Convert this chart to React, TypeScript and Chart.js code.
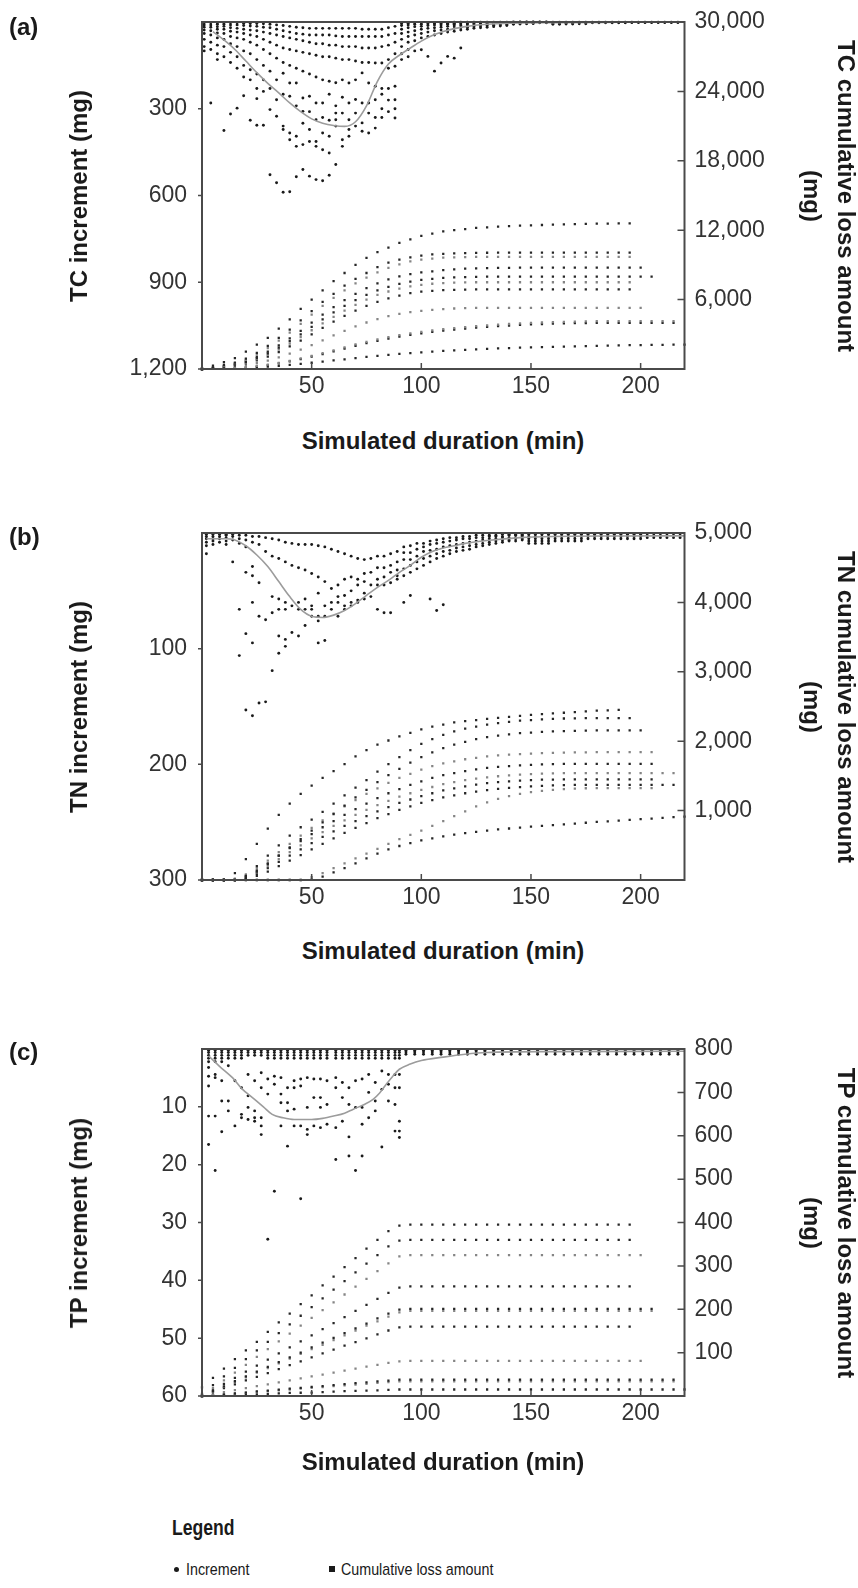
import React, { useEffect, useRef } from "react";
import { Chart, registerables } from "chart.js";

Chart.register(...registerables);

// ---------------- shared ----------------
const X_TICKS = [50, 100, 150, 200];
const CUM_T = [0, 5, 10, 15, 20, 25, 30, 35, 40, 45, 50, 55, 60, 65, 70, 75, 80, 85, 90, 95, 100, 105, 110, 115, 120, 125, 130, 135, 140, 145, 150, 155, 160, 165, 170, 175, 180, 185, 190, 195, 200, 205, 210, 215, 220];

// ---------------- (a) TC ----------------
const TC_LEFT_TICKS = [300, 600, 900, 1200];
const TC_RIGHT_TICKS = [6000, 12000, 18000, 24000, 30000];
const TC_INC_T = [1, 4, 7, 10, 13, 16, 19, 22, 25, 28, 31, 34, 37, 40, 43, 46, 49, 52, 55, 58, 61, 64, 67, 70, 73, 76, 79, 82, 85, 88, 91, 94, 97, 100, 103, 106, 109, 112, 115, 118, 121, 124, 127, 130, 133, 136, 139, 142, 145, 148, 151, 154, 157, 160, 163, 166, 169, 172, 175, 178, 181, 184, 187, 190, 193, 196, 199, 202, 205, 208, 211, 214, 217];
const TC_INC_V = [
  [3, 10, 18, 28, 40, 60, 85, 100],
  [3, 10, 18, 30, 45, 70, 95, 280],
  [3, 8, 16, 25, 38, 55, 80, 110, 130],
  [3, 8, 15, 25, 40, 60, 85, 120, 375],
  [3, 10, 20, 32, 50, 75, 105, 140, 318],
  [3, 10, 22, 35, 55, 85, 120, 160, 298],
  [4, 12, 25, 40, 60, 100, 150, 190, 255],
  [5, 14, 28, 45, 70, 110, 165, 200, 340],
  [5, 15, 30, 50, 80, 130, 180, 230, 265, 357],
  [6, 18, 35, 60, 95, 150, 200, 240, 357],
  [8, 20, 40, 70, 110, 170, 230, 303, 528],
  [10, 25, 45, 80, 125, 200, 269, 326, 556],
  [12, 30, 50, 90, 140, 177, 250, 360, 372, 589],
  [15, 35, 55, 95, 150, 211, 257, 384, 407, 587],
  [18, 40, 60, 100, 160, 211, 290, 395, 430, 535],
  [20, 42, 65, 105, 170, 263, 309, 350, 424, 510],
  [22, 45, 70, 110, 180, 257, 310, 372, 413, 533],
  [22, 45, 75, 115, 190, 280, 338, 413, 430, 545],
  [22, 45, 75, 120, 200, 280, 330, 384, 442, 549],
  [22, 45, 80, 120, 205, 250, 340, 395, 453, 530],
  [22, 48, 80, 125, 210, 290, 315, 338, 360, 493],
  [22, 50, 85, 130, 200, 260, 315, 407, 430],
  [22, 50, 85, 130, 211, 280, 338, 372, 395],
  [22, 50, 85, 135, 200, 268, 315, 360],
  [25, 50, 90, 140, 176, 280, 349, 378],
  [25, 50, 90, 140, 211, 280, 315, 384],
  [25, 50, 90, 142, 222, 269, 330, 367],
  [25, 50, 85, 142, 230, 250, 300, 330],
  [20, 45, 80, 130, 160, 230, 270, 310],
  [15, 40, 70, 110, 153, 222, 269, 300, 332],
  [5, 12, 25, 40, 60, 85, 110, 130],
  [4, 10, 20, 35, 50, 70, 95, 120],
  [3, 8, 16, 30, 45, 65, 100],
  [3, 8, 15, 25, 40, 55, 96],
  [2, 6, 12, 22, 35, 50, 119],
  [2, 5, 10, 20, 30, 45, 170],
  [2, 5, 10, 18, 28, 40, 142],
  [2, 4, 8, 15, 25, 35, 119],
  [1, 4, 8, 14, 22, 32, 125],
  [1, 3, 7, 12, 20, 28, 90],
  [1, 3, 6, 10, 18, 25],
  [1, 3, 6, 10, 16, 22],
  [1, 2, 5, 9, 14, 20],
  [1, 2, 5, 8, 12, 18],
  [1, 2, 4, 7, 11, 16],
  [1, 2, 4, 6, 10, 14],
  [1, 2, 3, 6, 9, 12],
  [0, 2, 3, 5, 8],
  [0, 1, 3, 5, 7],
  [0, 1, 2, 4, 6],
  [0, 1, 2, 4, 5],
  [0, 1, 2, 3],
  [0, 1, 2, 3],
  [1, 4, 8],
  [1, 4, 8],
  [1, 4, 7],
  [1, 4, 7],
  [1, 3, 6],
  [1, 3, 6],
  [1, 3],
  [1, 3],
  [1, 3],
  [1, 3],
  [1, 3],
  [1, 3],
  [1, 2],
  [1, 2],
  [1, 2],
  [1, 2],
  [1, 2],
  [1, 2],
  [1, 2],
  [1, 2]
];
const TC_FIT_T = [5, 10, 15, 20, 25, 30, 35, 40, 45, 50, 55, 60, 65, 70, 75, 80, 85, 90, 95, 100, 105, 110, 115, 120, 130, 140, 160, 190, 220];
const TC_FIT_V = [33, 62, 95, 135, 175, 212, 245, 280, 310, 335, 350, 358, 361, 345, 290, 205, 145, 115, 90, 66, 47, 33, 23, 16, 8, 4, 2, 1, 0.5];
const TC_CUM_1 = [0, 300, 600, 950, 1500, 2100, 2700, 3500, 4300, 5200, 6000, 6800, 7600, 8300, 9000, 9600, 10100, 10500, 10900, 11200, 11500, 11700, 11900, 12000, 12100, 12200, 12250, 12300, 12350, 12400, 12420, 12450, 12480, 12500, 12520, 12540, 12560, 12570, 12580, 12600];
const TC_CUM_2 = [0, 150, 350, 550, 900, 1400, 2000, 2700, 3400, 4200, 5000, 5800, 6500, 7200, 7800, 8300, 8800, 9200, 9450, 9650, 9800, 9900, 9950, 10000, 10020, 10040, 10050, 10060, 10060, 10060, 10060, 10060, 10060, 10060, 10060, 10060, 10060, 10060, 10060, 10060];
const TC_CUM_3 = [0, 120, 300, 500, 800, 1250, 1800, 2450, 3150, 3900, 4700, 5450, 6150, 6800, 7400, 7900, 8350, 8750, 9050, 9300, 9450, 9550, 9620, 9660, 9680, 9700, 9700, 9700, 9700, 9700, 9700, 9700, 9700, 9700, 9700, 9700, 9700, 9700, 9700, 9700];
const TC_CUM_4 = [0, 100, 250, 450, 700, 1050, 1500, 2050, 2650, 3300, 4000, 4700, 5350, 5950, 6500, 7000, 7400, 7750, 8000, 8200, 8350, 8450, 8550, 8620, 8670, 8700, 8720, 8740, 8750, 8760, 8760, 8760, 8760, 8760, 8760, 8760, 8760, 8760, 8760, 8760, 8760];
const TC_CUM_5 = [0, 80, 200, 380, 620, 950, 1350, 1850, 2400, 3000, 3650, 4300, 4900, 5450, 5950, 6400, 6800, 7100, 7350, 7550, 7700, 7800, 7870, 7920, 7950, 7970, 7980, 7980, 7980, 7980, 7980, 7980, 7980, 7980, 7980, 7980, 7980, 7980, 7980, 7980, 7980, 7980];
const TC_CUM_6 = [0, 70, 180, 340, 560, 860, 1250, 1700, 2200, 2750, 3350, 3950, 4500, 5050, 5550, 6000, 6400, 6700, 6950, 7150, 7280, 7370, 7430, 7470, 7490, 7500, 7500, 7500, 7500, 7500, 7500, 7500, 7500, 7500, 7500, 7500, 7500, 7500, 7500, 7500];
const TC_CUM_7 = [0, 60, 150, 290, 480, 740, 1070, 1470, 1950, 2450, 3000, 3550, 4100, 4600, 5050, 5450, 5800, 6100, 6350, 6550, 6680, 6760, 6820, 6850, 6870, 6880, 6880, 6880, 6880, 6880, 6880, 6880, 6880, 6880, 6880, 6880, 6880, 6880, 6880, 6880];
const TC_CUM_8 = [0, 40, 100, 190, 320, 500, 730, 1000, 1320, 1680, 2070, 2480, 2900, 3300, 3680, 4020, 4320, 4570, 4770, 4920, 5030, 5120, 5180, 5230, 5260, 5280, 5290, 5290, 5290, 5290, 5290, 5290, 5290, 5290, 5290, 5290, 5290, 5290, 5290, 5290, 5290];
const TC_CUM_9 = [0, 20, 50, 100, 170, 260, 380, 530, 710, 910, 1130, 1370, 1620, 1870, 2120, 2350, 2570, 2760, 2930, 3080, 3210, 3330, 3440, 3540, 3630, 3710, 3780, 3840, 3890, 3940, 3980, 4020, 4050, 4080, 4100, 4120, 4130, 4130, 4130, 4130, 4130, 4130, 4130, 4130];
const TC_CUM_10 = [0, 15, 40, 85, 150, 235, 345, 490, 660, 850, 1060, 1290, 1530, 1770, 2010, 2230, 2440, 2630, 2800, 2950, 3080, 3200, 3310, 3410, 3500, 3580, 3650, 3710, 3760, 3810, 3850, 3890, 3920, 3940, 3960, 3970, 3980, 3980, 3980, 3980, 3980, 3980, 3980, 3980];
const TC_CUM_11 = [0, 10, 25, 50, 90, 140, 200, 270, 350, 440, 540, 640, 740, 840, 940, 1040, 1130, 1220, 1300, 1370, 1440, 1500, 1560, 1610, 1660, 1700, 1740, 1780, 1810, 1840, 1870, 1900, 1920, 1940, 1960, 1980, 2000, 2020, 2040, 2060, 2070, 2080, 2090, 2100, 2110];

// ---------------- (b) TN ----------------
const TN_LEFT_TICKS = [100, 200, 300];
const TN_RIGHT_TICKS = [1000, 2000, 3000, 4000, 5000];
const TN_INC_T = [2, 5, 8, 11, 14, 17, 20, 23, 26, 29, 32, 35, 38, 41, 44, 47, 50, 53, 56, 59, 62, 65, 68, 71, 74, 77, 80, 83, 86, 89, 92, 95, 98, 101, 104, 107, 110, 113, 116, 119, 122, 125, 128, 131, 134, 137, 140, 143, 146, 149, 152, 155, 158, 161, 164, 167, 170, 173, 176, 179, 182, 185, 188, 191, 194, 197, 200, 203, 206, 209, 212, 215, 218];
const TN_INC_V = [
  [1, 3, 5, 8, 11, 18],
  [1, 3, 5, 7, 10],
  [1, 3, 5, 8],
  [1, 2, 4, 7, 10],
  [1, 3, 6, 25],
  [2, 5, 9, 66, 106],
  [2, 6, 12, 34, 87, 153],
  [3, 8, 29, 37, 60, 95, 158],
  [3, 10, 43, 72, 147],
  [4, 16, 75, 146],
  [5, 20, 55, 69, 119],
  [6, 22, 57, 66, 89, 104],
  [8, 25, 60, 66, 92, 98],
  [9, 28, 63, 86],
  [10, 30, 60, 66, 89],
  [10, 32, 57, 66, 80],
  [10, 35, 63, 66, 72],
  [11, 38, 52, 72, 76, 95],
  [12, 42, 63, 72, 93],
  [14, 48, 60, 66],
  [16, 45, 55, 60, 72],
  [18, 40, 54, 63, 66],
  [20, 38, 50, 60, 63],
  [22, 40, 45, 58, 60],
  [23, 35, 42, 52, 57],
  [22, 34, 45, 55],
  [20, 30, 40, 45, 66],
  [20, 30, 38, 45, 69],
  [18, 28, 34, 43, 69],
  [16, 25, 32, 37, 40],
  [12, 17, 23, 31, 37, 60],
  [11, 17, 23, 28, 34, 54],
  [9, 14, 20, 25, 31],
  [9, 12, 16, 22, 28],
  [7, 10, 15, 20, 25, 57],
  [6, 9, 14, 18, 22, 67],
  [5, 8, 12, 16, 20, 62],
  [4, 7, 11, 15, 18],
  [4, 6, 10, 13, 16],
  [3, 5, 9, 12, 15],
  [3, 5, 8, 11, 14],
  [2, 4, 7, 10, 12],
  [2, 4, 6, 9, 11],
  [2, 3, 5, 8, 10],
  [2, 3, 5, 7, 9],
  [1, 3, 4, 6, 8],
  [1, 2, 4, 6, 7],
  [1, 2, 4, 5, 7],
  [1, 2, 3, 5, 6],
  [1, 3, 5, 7, 9],
  [1, 3, 5, 7, 9],
  [1, 3, 5, 7, 9],
  [1, 3, 5, 7, 9],
  [1, 3, 5, 7],
  [1, 3, 5, 7],
  [1, 3, 5, 7],
  [1, 3, 5, 7],
  [1, 3, 5, 7],
  [1, 3, 5],
  [1, 3, 5],
  [1, 3, 5],
  [1, 3, 5],
  [1, 3, 5],
  [1, 3, 5],
  [1, 3, 5],
  [1, 3, 5],
  [1, 3, 5],
  [2, 4],
  [2, 4],
  [2, 4],
  [2, 4],
  [2, 4],
  [2, 4]
];
const TN_FIT_T = [2, 10, 15, 20, 25, 30, 35, 40, 45, 50, 55, 60, 65, 70, 75, 80, 85, 90, 95, 100, 105, 110, 115, 120, 130, 145, 160, 190, 220];
const TN_FIT_V = [5, 5, 6, 11, 19, 29, 42, 55, 66, 72, 73, 71, 67, 61, 54, 47, 41, 34, 28, 21, 16, 13, 11, 9, 6.5, 4, 3, 2.6, 2.5];
const TN_CUM_1 = [0, 0, 0, 100, 300, 520, 740, 940, 1100, 1240, 1360, 1470, 1570, 1670, 1780, 1870, 1950, 2010, 2070, 2120, 2170, 2210, 2240, 2270, 2290, 2305, 2320, 2335, 2350, 2365, 2380, 2390, 2400, 2410, 2420, 2430, 2440, 2445, 2453];
const TN_CUM_2 = [0, 0, 0, 0, 60, 200, 350, 500, 640, 760, 870, 980, 1100, 1220, 1330, 1440, 1560, 1670, 1770, 1870, 1960, 2030, 2090, 2140, 2180, 2210, 2240, 2260, 2280, 2295, 2305, 2315, 2322, 2327, 2330, 2333, 2333, 2333, 2333, 2333];
const TN_CUM_3 = [0, 0, 0, 0, 30, 120, 230, 350, 470, 590, 710, 830, 950, 1070, 1190, 1300, 1410, 1510, 1600, 1690, 1770, 1840, 1900, 1950, 1990, 2030, 2060, 2080, 2100, 2115, 2125, 2135, 2140, 2145, 2150, 2153, 2155, 2155, 2155, 2155, 2155];
const TN_CUM_4 = [0, 0, 0, 20, 80, 170, 280, 400, 520, 640, 750, 860, 960, 1060, 1150, 1240, 1320, 1400, 1470, 1530, 1590, 1640, 1680, 1710, 1740, 1760, 1780, 1795, 1805, 1815, 1822, 1828, 1832, 1836, 1838, 1840, 1842, 1842, 1842, 1842, 1842, 1842];
const TN_CUM_5 = [0, 0, 0, 10, 60, 140, 240, 350, 460, 560, 660, 760, 850, 940, 1020, 1100, 1180, 1250, 1310, 1370, 1420, 1470, 1510, 1540, 1570, 1595, 1615, 1630, 1642, 1652, 1660, 1665, 1669, 1672, 1674, 1674, 1674, 1674, 1674, 1674, 1674, 1674];
const TN_CUM_6 = [0, 0, 0, 0, 40, 110, 200, 300, 400, 500, 600, 690, 780, 860, 940, 1010, 1080, 1140, 1200, 1250, 1300, 1340, 1380, 1410, 1440, 1460, 1480, 1495, 1508, 1518, 1526, 1532, 1536, 1539, 1540, 1540, 1540, 1540, 1540, 1540, 1540, 1540, 1540, 1540];
const TN_CUM_7 = [0, 0, 0, 0, 30, 90, 170, 260, 350, 440, 530, 620, 700, 780, 850, 920, 990, 1050, 1110, 1160, 1210, 1250, 1290, 1320, 1350, 1375, 1395, 1410, 1422, 1432, 1440, 1445, 1448, 1450, 1450, 1450, 1450, 1450, 1450, 1450, 1450, 1450];
const TN_CUM_8 = [0, 0, 0, 0, 20, 60, 120, 200, 280, 360, 440, 520, 600, 680, 750, 820, 890, 950, 1010, 1060, 1110, 1150, 1190, 1220, 1250, 1275, 1295, 1312, 1326, 1338, 1348, 1356, 1362, 1366, 1369, 1371, 1371, 1371, 1371, 1371, 1371, 1371, 1371, 1371];
const TN_CUM_9 = [0, 0, 0, 0, 0, 0, 0, 0, 0, 0, 40, 100, 170, 240, 310, 380, 450, 520, 590, 650, 710, 780, 850, 920, 990, 1060, 1120, 1170, 1210, 1240, 1265, 1285, 1300, 1310, 1318, 1322, 1325, 1325, 1325, 1325, 1325, 1325];
const TN_CUM_10 = [0, 0, 0, 0, 0, 0, 0, 0, 0, 0, 10, 50, 110, 170, 240, 310, 380, 440, 490, 530, 570, 600, 630, 655, 675, 695, 712, 728, 742, 755, 768, 780, 792, 803, 814, 825, 836, 846, 856, 866, 876, 886, 896, 905, 913];

// ---------------- (c) TP ----------------
const TP_LEFT_TICKS = [10, 20, 30, 40, 50, 60];
const TP_RIGHT_TICKS = [100, 200, 300, 400, 500, 600, 700, 800];
const TP_INC_T = [3, 6, 9, 12, 15, 18, 21, 24, 27, 30, 33, 36, 39, 42, 45, 48, 51, 54, 57, 61, 64, 67, 70, 73, 76, 79, 82, 85, 88, 90, 93, 97, 101, 105, 109, 113, 117, 121, 125, 129, 133, 137, 141, 145, 149, 153, 157, 161, 165, 169, 173, 177, 181, 185, 189, 193, 197, 201, 205, 209, 213, 217];
const TP_INC_V = [
  [0.2, 0.6, 1.1, 1.6, 2.2, 3.2, 4.7, 6.4, 11.6, 16.5],
  [0.2, 0.6, 1.1, 1.6, 2.2, 4.4, 4.95, 11.6, 21],
  [0.2, 0.6, 1.1, 1.6, 2.2, 5.5, 9, 14.3],
  [0.2, 0.6, 1.1, 1.6, 2.9, 9, 10.7],
  [0.2, 0.6, 1.1, 1.6, 5.5, 13.3],
  [0.2, 0.6, 1.1, 1.6, 6.7, 11.3, 11.9],
  [0.2, 0.6, 1.1, 4.4, 8.1, 10.1, 12.2],
  [0.2, 0.6, 1.1, 5.5, 10.7, 11.9, 12.5],
  [0.2, 0.6, 1.1, 4.1, 6.7, 11.9, 13.3, 14.8],
  [0.2, 0.6, 1.1, 1.6, 5.2, 7.8, 32.9],
  [0.2, 0.6, 1.1, 1.6, 4.7, 6.1, 24.6],
  [0.2, 0.6, 1.1, 1.6, 4.95, 7.8, 9.3, 13.3],
  [0.2, 0.6, 1.1, 1.6, 6.7, 9.3, 10.7, 16.8],
  [0.2, 0.6, 1.1, 1.6, 5.5, 6.7, 10.4, 13.3],
  [0.2, 0.6, 1.1, 1.6, 5.2, 6.4, 13.3, 25.9],
  [0.2, 0.6, 1.1, 1.6, 4.95, 10.1, 13.9, 14.8],
  [0.2, 0.6, 1.1, 1.6, 5.2, 8.4, 13.3],
  [0.2, 0.6, 1.1, 1.6, 5.2, 8.4, 10.1, 13.6],
  [0.2, 0.6, 1.1, 1.6, 5.5, 9.6, 13.0],
  [0.2, 0.6, 1.1, 1.6, 4.95, 6.7, 13.6, 19.1],
  [0.2, 0.6, 1.1, 1.6, 5.8, 8.4, 12.5],
  [0.2, 0.6, 1.1, 1.6, 6.7, 9.6, 15.2, 18.5],
  [0.2, 0.6, 1.1, 1.6, 5.5, 10.1, 21],
  [0.2, 0.6, 1.1, 1.6, 5.2, 10.1, 13.0, 18.5],
  [0.2, 0.6, 1.1, 1.6, 4.4, 7.5, 11.9],
  [0.2, 0.6, 1.1, 1.6, 5.8, 9.0, 10.7],
  [0.2, 0.6, 1.1, 1.6, 3.8, 6.98, 16.95],
  [0.2, 0.6, 1.1, 1.6, 4.4, 6.1, 9.0],
  [0.2, 0.6, 1.1, 1.6, 4.4, 6.7, 9.6, 14.2],
  [0.2, 0.6, 1.1, 1.6, 4.4, 6.7, 12.5, 14.2, 15.3],
  [0.2, 0.5, 0.9], [0.2, 0.5, 0.9], [0.2, 0.5, 0.9], [0.2, 0.5, 0.9],
  [0.2, 0.5, 0.9], [0.2, 0.5, 0.9], [0.2, 0.5, 0.9], [0.2, 0.5, 0.9],
  [0.2, 0.5, 0.9], [0.2, 0.5, 0.9], [0.2, 0.5, 0.9], [0.2, 0.5, 0.9],
  [0.2, 0.5, 0.9], [0.2, 0.5, 0.9], [0.2, 0.5, 0.9], [0.2, 0.5, 0.9],
  [0.2, 0.5, 0.9], [0.2, 0.5, 0.9], [0.2, 0.5, 0.9], [0.2, 0.5, 0.9],
  [0.2, 0.5, 0.9], [0.2, 0.5, 0.9], [0.2, 0.5, 0.9], [0.2, 0.5, 0.9],
  [0.2, 0.5, 0.9], [0.2, 0.5, 0.9], [0.2, 0.5, 0.9], [0.2, 0.5, 0.9],
  [0.2, 0.5, 0.9], [0.2, 0.5, 0.9], [0.2, 0.5, 0.9], [0.2, 0.5, 0.9]
];
const TP_FIT_T = [3, 8, 14, 18, 23, 28, 32, 37, 42, 50, 55, 60, 65, 69, 74, 78, 81, 84, 87, 90, 95, 100, 110, 120, 130, 160, 220];
const TP_FIT_V = [1.2, 3, 5, 6.8, 8.4, 10, 11.3, 11.9, 12.2, 12.2, 12, 11.6, 11.1, 10.4, 9.6, 8.7, 7.6, 6.1, 4.7, 3.5, 2.6, 2.0, 1.4, 0.9, 0.6, 0.45, 0.4];
const TP_CUM_1 = [20, 42, 63, 85, 105, 125, 148, 170, 190, 212, 232, 255, 275, 297, 318, 340, 360, 380, 393, 395, 395, 395, 395, 395, 395, 395, 395, 395, 395, 395, 395, 395, 395, 395, 395, 395, 395, 395, 395, 395];
const TP_CUM_2 = [5, 25, 45, 65, 85, 105, 125, 145, 165, 185, 205, 225, 245, 265, 285, 305, 325, 345, 358, 360, 360, 360, 360, 360, 360, 360, 360, 360, 360, 360, 360, 360, 360, 360, 360, 360, 360, 360, 360, 360];
const TP_CUM_3 = [0, 18, 36, 54, 72, 90, 108, 126, 144, 162, 180, 198, 216, 234, 252, 270, 288, 306, 322, 325, 325, 325, 325, 325, 325, 325, 325, 325, 325, 325, 325, 325, 325, 325, 325, 325, 325, 325, 325, 325, 325];
const TP_CUM_4 = [0, 14, 28, 42, 56, 70, 84, 98, 112, 126, 140, 154, 168, 182, 196, 210, 224, 238, 250, 253, 253, 253, 253, 253, 253, 253, 253, 253, 253, 253, 253, 253, 253, 253, 253, 253, 253, 253, 253, 253];
const TP_CUM_5 = [0, 11, 22, 34, 45, 56, 67, 78, 89, 100, 112, 123, 134, 145, 156, 167, 179, 190, 199, 201, 201, 201, 201, 201, 201, 201, 201, 201, 201, 201, 201, 201, 201, 201, 201, 201, 201, 201, 201, 201, 201, 201];
const TP_CUM_6 = [0, 10, 21, 32, 43, 54, 64, 75, 86, 97, 108, 118, 129, 140, 151, 162, 172, 183, 193, 196, 196, 196, 196, 196, 196, 196, 196, 196, 196, 196, 196, 196, 196, 196, 196, 196, 196, 196, 196, 196, 196, 196];
const TP_CUM_7 = [0, 9, 18, 27, 36, 44, 53, 62, 71, 80, 89, 98, 107, 116, 124, 133, 142, 151, 158, 160, 160, 160, 160, 160, 160, 160, 160, 160, 160, 160, 160, 160, 160, 160, 160, 160, 160, 160, 160, 160];
const TP_CUM_8 = [0, 4.5, 9, 13.5, 18, 22.5, 27, 31.5, 36, 40.5, 45, 49.5, 54, 58.5, 63, 67.5, 72, 76.5, 80, 81, 81, 81, 81, 81, 81, 81, 81, 81, 81, 81, 81, 81, 81, 81, 81, 81, 81, 81, 81, 81, 81];
const TP_CUM_9 = [0, 2, 4, 6, 8, 10.5, 12.5, 14.5, 17, 19, 21, 23, 25, 27.5, 29.5, 31.5, 33.5, 35.5, 37.5, 38, 38, 38, 38, 38, 38, 38, 38, 38, 38, 38, 38, 38, 38, 38, 38, 38, 38, 38, 38, 38, 38, 38, 38, 38];
const TP_CUM_10 = [0, 2, 3.5, 5.5, 7.5, 9.5, 11, 13, 15, 17, 19, 20.5, 22.5, 24.5, 26.5, 28, 30, 32, 33.5, 34, 34, 34, 34, 34, 34, 34, 34, 34, 34, 34, 34, 34, 34, 34, 34, 34, 34, 34, 34, 34, 34, 34, 34, 34];
const TP_CUM_11 = [0, 1, 2, 2.5, 3, 4, 5, 6, 7, 7.5, 8, 9, 10, 11, 12, 12.5, 13, 14, 15, 15, 15, 15, 15, 15, 15, 15, 15, 15, 15, 15, 15, 15, 15, 15, 15, 15, 15, 15, 15, 15, 15, 15, 15, 15, 15];

// ---------------- styling ----------------
const DARK = "#262626";
const GRAY = "#858585";
const FONT = '"Liberation Sans", Arial, sans-serif';
const CANVAS_W = 858;
const CANVAS_H = 430;
const PAD_TOP = 30;
const PLOT_H = 347;
const PLOT_LEFT = 202;
const PLOT_RIGHT = 684.5;

type Series = { values: number[]; color: string };
type PanelCfg = {
  plotTop: number;
  incT: number[];
  incV: number[][];
  fitT: number[];
  fitV: number[];
  cum: Series[];
  leftMax: number;
  leftTicks: number[];
  rightMax: number;
  rightTicks: number[];
};

const fmt = (v: number) => String(v).replace(/\B(?=(\d{3})+(?!\d))/g, ",");

const framePlugin = {
  id: "frame",
  afterDraw(chart: any) {
    const { ctx, chartArea, scales } = chart;
    const { left, right, top, bottom } = chartArea;
    ctx.save();
    ctx.strokeStyle = "#4a4a4a";
    ctx.lineWidth = 2;
    ctx.strokeRect(left, top, right - left, bottom - top);
    ctx.lineWidth = 1.5;
    ctx.beginPath();
    scales.yL.ticks.forEach((t: any) => {
      const y = scales.yL.getPixelForValue(t.value);
      ctx.moveTo(left - 4, y);
      ctx.lineTo(left, y);
    });
    scales.yR.ticks.forEach((t: any) => {
      const y = scales.yR.getPixelForValue(t.value);
      ctx.moveTo(right - 7, y);
      ctx.lineTo(right, y);
    });
    scales.x.ticks.forEach((t: any) => {
      const x = scales.x.getPixelForValue(t.value);
      ctx.moveTo(x, bottom - 6);
      ctx.lineTo(x, bottom);
    });
    ctx.stroke();
    ctx.restore();
  },
};

function Panel({ cfg }: { cfg: PanelCfg }) {
  const ref = useRef<HTMLCanvasElement>(null);
  useEffect(() => {
    const incPts: { x: number; y: number }[] = [];
    cfg.incT.forEach((t, i) => (cfg.incV[i] || []).forEach((v) => incPts.push({ x: t, y: v })));
    const fitPts = cfg.fitT.map((t, i) => ({ x: t, y: cfg.fitV[i] }));
    const datasets: any[] = [
      {
        data: fitPts,
        yAxisID: "yL",
        showLine: true,
        borderColor: "#9c9c9c",
        borderWidth: 1.6,
        pointRadius: 0,
        tension: 0.4,
        cubicInterpolationMode: "monotone",
        clip: 3,
      },
      {
        data: incPts,
        yAxisID: "yL",
        pointRadius: 1.45,
        pointBackgroundColor: "#1a1a1a",
        pointBorderWidth: 0,
        clip: 3,
      },
      ...cfg.cum.map((s) => ({
        data: s.values.map((v, i) => ({ x: CUM_T[i], y: v })),
        yAxisID: "yR",
        pointStyle: "rect",
        pointRadius: 1.6,
        pointBackgroundColor: s.color,
        pointBorderWidth: 0,
        clip: 3,
      })),
    ];
    const tickFont = { family: FONT, size: 23 };
    const chart = new Chart(ref.current as HTMLCanvasElement, {
      type: "scatter",
      data: { datasets },
      plugins: [framePlugin],
      options: {
        animation: false,
        responsive: false,
        maintainAspectRatio: false,
        events: [],
        layout: { padding: { top: PAD_TOP, left: 0, right: 0, bottom: 0 } },
        plugins: { legend: { display: false }, tooltip: { enabled: false } },
        scales: {
          x: {
            type: "linear",
            position: "bottom",
            min: 0,
            max: 220,
            afterBuildTicks: (s: any) => {
              s.ticks = X_TICKS.map((v) => ({ value: v }));
            },
            afterFit: (s: any) => {
              s.height = CANVAS_H - PAD_TOP - PLOT_H;
            },
            grid: { display: false, drawTicks: false },
            border: { display: false },
            ticks: { padding: 4, font: tickFont, color: "#333", autoSkip: false, maxRotation: 0, callback: (v: any) => String(v) },
          },
          yL: {
            type: "linear",
            position: "left",
            min: 0,
            max: cfg.leftMax,
            reverse: true,
            afterBuildTicks: (s: any) => {
              s.ticks = cfg.leftTicks.map((v) => ({ value: v }));
            },
            afterFit: (s: any) => {
              s.width = PLOT_LEFT;
            },
            grid: { display: false, drawTicks: false },
            border: { display: false },
            ticks: { padding: 15, font: tickFont, color: "#333", autoSkip: false, callback: (v: any) => fmt(Number(v)) },
          },
          yR: {
            type: "linear",
            position: "right",
            min: 0,
            max: cfg.rightMax,
            afterBuildTicks: (s: any) => {
              s.ticks = cfg.rightTicks.map((v) => ({ value: v }));
            },
            afterFit: (s: any) => {
              s.width = CANVAS_W - PLOT_RIGHT;
            },
            grid: { display: false, drawTicks: false },
            border: { display: false },
            ticks: { padding: 10, font: tickFont, color: "#333", autoSkip: false, callback: (v: any) => fmt(Number(v)) },
          },
        },
      } as any,
    });
    return () => chart.destroy();
  }, []);
  return (
    <canvas
      ref={ref}
      width={CANVAS_W}
      height={CANVAS_H}
      style={{ position: "absolute", left: 0, top: cfg.plotTop - PAD_TOP, width: CANVAS_W, height: CANVAS_H }}
    />
  );
}

const PANELS: { cfg: PanelCfg; label: string; leftTitle: string; rightTitle: string; labelY: number; xTitleY: number }[] = [
  {
    label: "(a)",
    leftTitle: "TC increment (mg)",
    rightTitle: "TC cumulative loss amount",
    labelY: 27,
    xTitleY: 441,
    cfg: {
      plotTop: 22,
      incT: TC_INC_T,
      incV: TC_INC_V,
      fitT: TC_FIT_T,
      fitV: TC_FIT_V,
      leftMax: 1200,
      leftTicks: TC_LEFT_TICKS,
      rightMax: 30000,
      rightTicks: TC_RIGHT_TICKS,
      cum: [
        { values: TC_CUM_1, color: DARK },
        { values: TC_CUM_2, color: DARK },
        { values: TC_CUM_3, color: GRAY },
        { values: TC_CUM_4, color: DARK },
        { values: TC_CUM_5, color: DARK },
        { values: TC_CUM_6, color: GRAY },
        { values: TC_CUM_7, color: DARK },
        { values: TC_CUM_8, color: GRAY },
        { values: TC_CUM_9, color: GRAY },
        { values: TC_CUM_10, color: DARK },
        { values: TC_CUM_11, color: DARK },
      ],
    },
  },
  {
    label: "(b)",
    leftTitle: "TN increment (mg)",
    rightTitle: "TN cumulative loss amount",
    labelY: 537,
    xTitleY: 951,
    cfg: {
      plotTop: 533,
      incT: TN_INC_T,
      incV: TN_INC_V,
      fitT: TN_FIT_T,
      fitV: TN_FIT_V,
      leftMax: 300,
      leftTicks: TN_LEFT_TICKS,
      rightMax: 5000,
      rightTicks: TN_RIGHT_TICKS,
      cum: [
        { values: TN_CUM_1, color: DARK },
        { values: TN_CUM_2, color: DARK },
        { values: TN_CUM_3, color: DARK },
        { values: TN_CUM_4, color: GRAY },
        { values: TN_CUM_5, color: DARK },
        { values: TN_CUM_6, color: GRAY },
        { values: TN_CUM_7, color: DARK },
        { values: TN_CUM_8, color: DARK },
        { values: TN_CUM_9, color: GRAY },
        { values: TN_CUM_10, color: DARK },
      ],
    },
  },
  {
    label: "(c)",
    leftTitle: "TP increment (mg)",
    rightTitle: "TP cumulative loss amount",
    labelY: 1052,
    xTitleY: 1462,
    cfg: {
      plotTop: 1049,
      incT: TP_INC_T,
      incV: TP_INC_V,
      fitT: TP_FIT_T,
      fitV: TP_FIT_V,
      leftMax: 60,
      leftTicks: TP_LEFT_TICKS,
      rightMax: 800,
      rightTicks: TP_RIGHT_TICKS,
      cum: [
        { values: TP_CUM_1, color: DARK },
        { values: TP_CUM_2, color: DARK },
        { values: TP_CUM_3, color: GRAY },
        { values: TP_CUM_4, color: DARK },
        { values: TP_CUM_5, color: DARK },
        { values: TP_CUM_6, color: GRAY },
        { values: TP_CUM_7, color: DARK },
        { values: TP_CUM_8, color: GRAY },
        { values: TP_CUM_9, color: DARK },
        { values: TP_CUM_10, color: GRAY },
        { values: TP_CUM_11, color: DARK },
      ],
    },
  },
];

const abs = (x: number, y: number, extra: React.CSSProperties = {}): React.CSSProperties => ({
  position: "absolute",
  left: x,
  top: y,
  whiteSpace: "nowrap",
  color: "#1a1a1a",
  ...extra,
});

export default function App() {
  return (
    <div style={{ position: "absolute", left: 0, top: 0, width: 858, height: 1588, background: "#fff", overflow: "hidden" }}>
      {PANELS.map((p) => {
        const cy = p.cfg.plotTop + PLOT_H / 2;
        return (
          <React.Fragment key={p.label}>
            <Panel cfg={p.cfg} />
            <div style={abs(9, p.labelY, { transform: "translateY(-50%)", font: `bold 24px ${FONT}`, lineHeight: "28px" })}>{p.label}</div>
            <div style={abs(79, cy, { transform: "translate(-50%,-50%) rotate(-90deg)", font: `bold 24px ${FONT}`, lineHeight: "28px" })}>{p.leftTitle}</div>
            <div style={abs(846, cy, { transform: "translate(-50%,-50%) rotate(90deg)", font: `bold 24px ${FONT}`, lineHeight: "28px" })}>{p.rightTitle}</div>
            <div style={abs(812, cy, { transform: "translate(-50%,-50%) rotate(90deg)", font: `bold 24px ${FONT}`, lineHeight: "28px" })}>(mg)</div>
            <div style={abs(443, p.xTitleY, { transform: "translate(-50%,-50%)", font: `bold 24px ${FONT}`, lineHeight: "28px" })}>Simulated duration (min)</div>
          </React.Fragment>
        );
      })}
      <div style={abs(172, 1528, { transform: "translateY(-50%) scaleX(0.8)", transformOrigin: "left center", font: `bold 22px ${FONT}`, lineHeight: "26px" })}>Legend</div>
      <div style={abs(174, 1567, { width: 5, height: 5, borderRadius: "50%", background: "#1a1a1a" })} />
      <div style={abs(186, 1570, { transform: "translateY(-50%) scaleX(0.84)", transformOrigin: "left center", font: `17px ${FONT}`, lineHeight: "20px" })}>Increment</div>
      <div style={abs(329, 1566, { width: 6, height: 6, background: "#1a1a1a" })} />
      <div style={abs(341, 1570, { transform: "translateY(-50%) scaleX(0.84)", transformOrigin: "left center", font: `17px ${FONT}`, lineHeight: "20px" })}>Cumulative loss amount</div>
    </div>
  );
}
